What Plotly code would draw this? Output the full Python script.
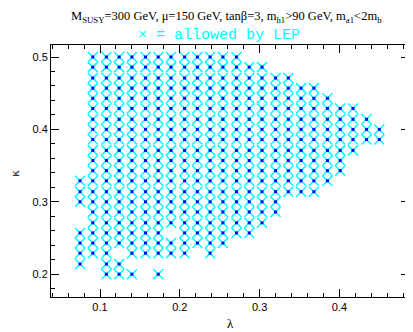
import plotly.graph_objects as go

# grid of the scan
lam = [0.075, 0.091, 0.108, 0.124, 0.140, 0.157, 0.173, 0.189, 0.206, 0.222, 0.238, 0.254,
       0.271, 0.287, 0.303, 0.320, 0.336, 0.352, 0.368, 0.385, 0.401, 0.417, 0.434, 0.450]
kap = [0.500, 0.486, 0.471, 0.457, 0.443, 0.429, 0.414, 0.400, 0.386, 0.371, 0.357, 0.343,
       0.329, 0.314, 0.300, 0.286, 0.271, 0.257, 0.243, 0.229, 0.214, 0.200]

# allowed points: one string per kappa row, one char per lambda column
allowed = [
    ".XXXXXXXXXXXX...........",
    ".XXXXXXXXXXXXXX.........",
    ".XXXXXXXXXXXXXXXX.......",
    ".XXXXXXXXXXXXXXXXXX.....",
    ".XXXXXXXXXXXXXXXXXXX....",
    ".XXXXXXXXXXXXXXXXXXXXX..",
    ".XXXXXXXXXXXXXXXXXXXXXX.",
    ".XXXXXXXXXXXXXXXXXXXXXXX",
    ".XXXXXXXXXXXXXXXXXXXXXXX",
    ".XXXXXXXXXXXXXXXXXXXXX..",
    ".XXXXXXXXXXXXXXXXXXXX...",
    ".XXXXXXXXXXXXXXXXXXXX...",
    "XXXXXXXXXXXXXXXXXXXX....",
    "XXXXXXXXXXXXXXXXXXX.....",
    "XXXXXXXXXXXXXXXX........",
    ".XXXXXXXXXXXXXXX........",
    ".XXXXXXXXXXXXXX.........",
    "XXXXXXX.XXXXXX..........",
    "XXXXXXXXXXXX............",
    "XXX.XXXXX.X.............",
    "X.XX....................",
    "..XXX.X.................",
]

xs = []
ys = []
for i, row in enumerate(allowed):
    for j, c in enumerate(row):
        if c == "X":
            xs.append(lam[j])
            ys.append(kap[i])

fig = go.Figure()
fig.add_trace(go.Scatter(x=xs, y=ys, mode="markers",
                         marker=dict(symbol="x-thin", size=10, line=dict(color="#00FFFF", width=1.5))))
fig.add_trace(go.Scatter(x=xs, y=ys, mode="markers",
                         marker=dict(symbol="square", size=3, color="#0000FF", line=dict(width=0))))

title = ("M<sub>SUSY</sub>=300 GeV, μ=150 GeV, tanβ=3, m<sub>h1</sub>>90 GeV, m<sub>a1</sub><2m<sub>b</sub>")
fig.add_annotation(text=title, x=0.49, y=1.15, xref="paper", yref="paper", showarrow=False,
                   xanchor="center", font=dict(family="Liberation Serif", size=12.5, color="black"))
fig.add_annotation(text="× = allowed by LEP", xref="paper", yref="paper", x=0.47, y=1.078,
                   xanchor="center", showarrow=False,
                   font=dict(family="Liberation Mono", size=15, color="#00FFFF"))
# axis titles
fig.add_annotation(text="λ", xref="paper", yref="paper", x=0.5, y=-0.107, showarrow=False,
                   xanchor="center", yanchor="middle",
                   font=dict(family="Liberation Serif", size=13, color="black"))
fig.add_annotation(text="κ", xref="paper", yref="paper", x=-0.103, y=0.49, textangle=-90,
                   xanchor="center", yanchor="middle", showarrow=False,
                   font=dict(family="Liberation Serif", size=13, color="black"))

axis_style = dict(showline=True, linecolor="black", linewidth=1, mirror="allticks", automargin=False,
                  ticks="inside", ticklen=8, tickcolor="black", showgrid=False, zeroline=False,
                  tickfont=dict(family="Liberation Sans", size=11, color="black"),
                  minor=dict(ticks="inside", ticklen=4, dtick=0.02, tickcolor="black", showgrid=False))

fig.update_xaxes(range=[0.0386, 0.4872], dtick=0.1, tick0=0, tickformat=".1f", **axis_style)
fig.update_yaxes(range=[0.1685, 0.5166], dtick=0.1, tick0=0, tickformat=".1f", **axis_style)

# page body adds an 8px offset, so the figure is sized to fill the rest of the window
fig.update_layout(width=405, height=324, margin=dict(l=43, r=4, t=37, b=35),
                  plot_bgcolor="white", paper_bgcolor="white", showlegend=False)

fig.write_html("out.html")
